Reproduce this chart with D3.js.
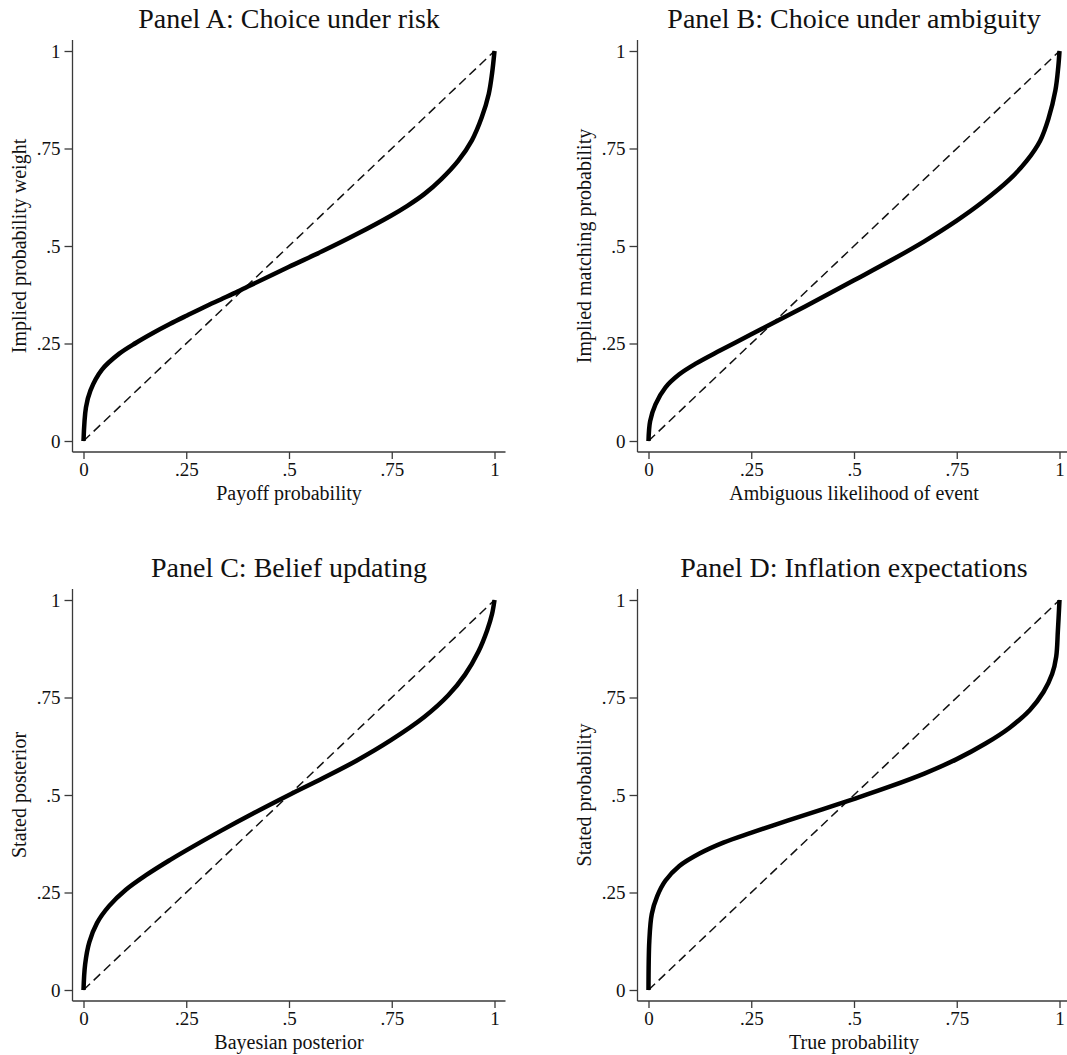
<!DOCTYPE html>
<html>
<head>
<meta charset="utf-8">
<script src="https://cdn.jsdelivr.net/npm/d3@7/dist/d3.min.js"></script>
<style>
  html, body { margin: 0; padding: 0; background: #fff; }
  svg { display: block; }
  text { font-family: "Liberation Serif", "DejaVu Serif", serif; fill: #111; }
</style>
</head>
<body>
<svg id="chart" width="1067" height="1055"></svg>
<script>
// Tick positions and their printed labels (shared by both axes of every panel)
const tickValues = [0, 0.25, 0.5, 0.75, 1];
const tickLabels = ["0", ".25", ".5", ".75", "1"];

// 45-degree reference line
const diagonal = [0, 1];

// Panel A: choice under risk
const riskP = [0, .006, .017, .045, .087, .128, .169, .210, .252, .293, .334, .375, .400, .499, .582, .664, .747, .788, .829, .870, .912, .945, .969, .986, .994, 1];
const riskW = [0, .086, .130, .183, .224, .252, .277, .300, .322, .343, .363, .383, .396, .446, .487, .530, .577, .603, .633, .671, .719, .771, .830, .890, .942, 1];

// Panel B: choice under ambiguity
const ambigP = [0, .004, .017, .041, .075, .116, .174, .249, .302, .381, .500, .588, .671, .750, .812, .878, .920, .953, .973, .990, .997, 1];
const ambigW = [0, .051, .094, .137, .171, .199, .232, .273, .302, .345, .412, .462, .512, .565, .612, .670, .718, .770, .826, .899, .959, 1];

// Panel C: belief updating
const beliefP = [0, .004, .014, .033, .062, .103, .153, .210, .250, .334, .417, .500, .582, .664, .747, .829, .887, .928, .961, .982, .994, 1];
const beliefW = [0, .066, .122, .172, .215, .257, .295, .333, .358, .408, .455, .500, .543, .588, .640, .700, .755, .808, .868, .922, .964, 1];

// Panel D: inflation expectations
const inflP = [0, .002, .008, .021, .041, .075, .124, .182, .249, .340, .423, .497, .588, .671, .750, .820, .878, .928, .961, .982, .992, .996, 1];
const inflW = [0, .126, .195, .240, .280, .318, .350, .378, .403, .435, .463, .489, .522, .555, .592, .632, .672, .718, .764, .810, .855, .920, 1];

const panels = [
  { title: "Panel A: Choice under risk",        xTitle: "Payoff probability",             yTitle: "Implied probability weight",  xs: riskP,   ys: riskW,   dx: 0,   dy: 0 },
  { title: "Panel B: Choice under ambiguity",   xTitle: "Ambiguous likelihood of event",  yTitle: "Implied matching probability", xs: ambigP,  ys: ambigW,  dx: 565, dy: 0 },
  { title: "Panel C: Belief updating",          xTitle: "Bayesian posterior",             yTitle: "Stated posterior",             xs: beliefP, ys: beliefW, dx: 0,   dy: 549 },
  { title: "Panel D: Inflation expectations",   xTitle: "True probability",               yTitle: "Stated probability",           xs: inflP,   ys: inflW,   dx: 565, dy: 549 }
];

// Geometry of a single panel (relative to its own origin)
const plot = { left: 83.5, right: 494.5, top: 51, bottom: 441, pad: 11 };
const axisColor = "#3a3a3a";

const svg = d3.select("#chart");
const fmt = v => tickLabels[tickValues.indexOf(v)];

panels.forEach(p => {
  const g = svg.append("g").attr("transform", `translate(${p.dx},${p.dy})`);

  const x = d3.scaleLinear().domain([0, 1]).range([plot.left, plot.right]);
  const y = d3.scaleLinear().domain([0, 1]).range([plot.bottom, plot.top]);

  const axisX = plot.left - plot.pad;     // position of the vertical axis line
  const axisY = plot.bottom + plot.pad;   // position of the horizontal axis line

  // Axis lines
  g.append("line")
    .attr("x1", axisX).attr("x2", axisX)
    .attr("y1", plot.top - plot.pad).attr("y2", axisY)
    .attr("stroke", axisColor).attr("stroke-width", 1.3);
  g.append("line")
    .attr("x1", axisX).attr("x2", plot.right + plot.pad)
    .attr("y1", axisY).attr("y2", axisY)
    .attr("stroke", axisColor).attr("stroke-width", 1.3);

  // Y axis ticks and labels
  const yAxis = g.append("g")
    .attr("transform", `translate(${axisX},0)`)
    .call(d3.axisLeft(y).tickValues(tickValues).tickFormat(fmt).tickSize(8).tickPadding(4));
  yAxis.select(".domain").remove();
  yAxis.selectAll(".tick line").attr("stroke", axisColor).attr("stroke-width", 1.3);
  yAxis.selectAll(".tick text")
    .attr("font-family", "Liberation Serif, serif")
    .attr("font-size", 19).attr("fill", "#111");

  // X axis ticks and labels
  const xAxis = g.append("g")
    .attr("transform", `translate(0,${axisY})`)
    .call(d3.axisBottom(x).tickValues(tickValues).tickFormat(fmt).tickSize(7).tickPadding(4));
  xAxis.select(".domain").remove();
  xAxis.selectAll(".tick line").attr("stroke", axisColor).attr("stroke-width", 1.3);
  xAxis.selectAll(".tick text")
    .attr("font-family", "Liberation Serif, serif")
    .attr("font-size", 19).attr("fill", "#111");

  // Dashed 45-degree line
  g.append("path")
    .datum(diagonal)
    .attr("d", d3.line().x(d => x(d)).y(d => y(d)))
    .attr("fill", "none")
    .attr("stroke", "#111")
    .attr("stroke-width", 1.5)
    .attr("stroke-dasharray", "9,5");

  // Estimated weighting curve
  const pts = p.xs.map((v, i) => [v, p.ys[i]]);
  g.append("path")
    .datum(pts)
    .attr("d", d3.line().x(d => x(d[0])).y(d => y(d[1])).curve(d3.curveCatmullRom.alpha(0.5)))
    .attr("fill", "none")
    .attr("stroke", "#000")
    .attr("stroke-width", 4.5)
    .attr("stroke-linejoin", "round");

  // Titles
  const cx = (plot.left + plot.right) / 2;
  g.append("text")
    .attr("x", cx).attr("y", 28)
    .attr("text-anchor", "middle")
    .attr("font-size", 28)
    .text(p.title);

  g.append("text")
    .attr("x", cx).attr("y", 499.5)
    .attr("text-anchor", "middle")
    .attr("font-size", 20)
    .text(p.xTitle);

  g.append("text")
    .attr("transform", `translate(26,${(plot.top + plot.bottom) / 2}) rotate(-90)`)
    .attr("text-anchor", "middle")
    .attr("font-size", 20)
    .text(p.yTitle);
});
</script>
</body>
</html>
